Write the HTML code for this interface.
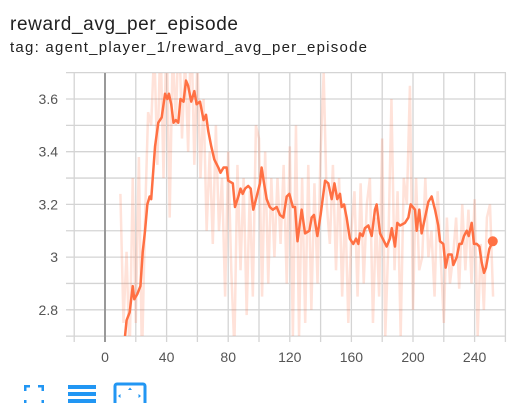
<!DOCTYPE html>
<html><head><meta charset="utf-8"><style>
html,body{margin:0;padding:0;background:#fff;width:514px;height:403px;overflow:hidden}
svg{display:block;font-family:"Liberation Sans",Arial,sans-serif}
</style></head><body>
<svg id="chart" width="514" height="403">
<text x="10" y="30" font-size="19" fill="#212121" textLength="228">reward_avg_per_episode</text>
<text x="10" y="52" font-size="15" fill="#212121" textLength="357">tag: agent_player_1/reward_avg_per_episode</text>
<defs><clipPath id="clip"><rect x="66" y="73" width="440" height="263"/></clipPath></defs>
<g id="grid"></g>
<g id="axes"></g>
<g clip-path="url(#clip)" id="series"></g>
<g transform="translate(24,385)" fill="#2196f3">
<rect x="0" y="0" width="6" height="2.5"/><rect x="0" y="0" width="2.5" height="6"/>
<rect x="14" y="0" width="6" height="2.5"/><rect x="17.5" y="0" width="2.5" height="6"/>
<rect x="0" y="15" width="2.5" height="4"/><rect x="17.5" y="15" width="2.5" height="4"/>
</g>
<g fill="#2196f3">
<rect x="68" y="385" width="28" height="4"/><rect x="68" y="392" width="28" height="4"/><rect x="68" y="399" width="28" height="4"/>
</g>
<g>
<rect x="115" y="384" width="30" height="24" rx="2" fill="none" stroke="#2196f3" stroke-width="3"/>
<path d="M128 390 l2 -2.5 l2 2.5z M118 396 l2.5 -2 v4z M141 396 l-2.5 -2 v4z" fill="#2196f3"/>
</g>
</svg>
<script>
const yTicks=[2.8,3,3.2,3.4,3.6];
const yTickLabels=["2.8","3","3.2","3.4","3.6"];
const xTicks=[0,40,80,120,160,200,240];
const xTickLabels=["0","40","80","120","160","200","240"];
const smoothSteps=[13,14,16,18,19,21,23,24.5,26,27.5,29,30,32.5,34.6,36.8,39,40.5,41.5,43,44.5,46,47.6,49,51,52.6,54,56,58,59.5,61.7,64,65.6,67,69,71,73.6,75,77,79,80,83,84.4,86.6,88,89.4,91,93,94.6,96.3,98.5,100.6,101.7,103,105,107,109,111.5,113.6,115.8,118,119.7,122,123.4,125,127.7,129.9,132.7,134.2,135.7,137.9,140,142.9,145,147.2,149,150.8,152.6,153.7,155.2,156.9,159,161.2,163,164.5,165.6,167.3,168.8,171,173.2,175.3,176.4,178.6,181.2,182.9,185,186.2,188.3,189.8,191.6,194.8,197,198.5,201.3,202.4,204.1,205.6,207.8,210,212.1,214.3,216.4,217.5,219.7,221.2,222.9,225.1,226.2,228.4,230.1,231.6,233.1,234.9,236.2,238.1,239.6,241.4,243.1,244.6,246.1,247.4,249.5,251.8];
const smoothValues=[2.70,2.76,2.79,2.89,2.84,2.86,2.89,3.02,3.10,3.20,3.23,3.22,3.42,3.51,3.53,3.62,3.60,3.62,3.58,3.51,3.52,3.51,3.60,3.59,3.67,3.65,3.59,3.63,3.58,3.59,3.52,3.54,3.48,3.42,3.37,3.34,3.32,3.34,3.34,3.29,3.28,3.19,3.23,3.26,3.24,3.26,3.27,3.26,3.18,3.23,3.28,3.34,3.29,3.22,3.19,3.18,3.19,3.16,3.15,3.23,3.24,3.19,3.19,3.06,3.18,3.09,3.10,3.15,3.16,3.08,3.16,3.29,3.28,3.22,3.28,3.22,3.24,3.19,3.20,3.15,3.07,3.05,3.07,3.05,3.09,3.08,3.11,3.12,3.08,3.18,3.20,3.09,3.06,3.04,3.07,3.11,3.04,3.13,3.12,3.13,3.15,3.20,3.18,3.10,3.18,3.09,3.15,3.21,3.23,3.18,3.12,3.06,3.05,2.96,3.01,3.01,2.97,3.00,3.05,3.05,3.08,3.10,3.08,3.13,3.05,3.05,3.04,2.98,2.94,2.96,3.03,3.06];
const rawSteps=[10,12,14,16,18,20,22,24,26,28,30,32,34,36,38,40,42,44,46,48,50,52,54,56,58,60,62,64,66,68,70,72,74,76,78,80,82,84,86,88,90,92,94,96,98,100,102,104,106,108,110,112,114,116,118,120,122,124,126,128,130,132,134,136,138,140,142,144,146,148,150,152,154,156,158,160,162,164,166,168,170,172,174,176,178,180,182,184,186,188,190,192,194,196,198,200,202,204,206,208,210,212,214,216,218,220,222,224,226,228,230,232,234,236,238,240,242,244,246,248,250,252];
const rawValues=[3.24,2.75,3.02,2.62,3.3,2.75,3.38,2.6,3.15,3.55,3.5,3.8,3.35,3.85,3.3,3.9,3.15,3.8,3.5,3.9,3.45,3.75,3.4,3.9,3.35,3.75,3.3,3.6,3.1,3.4,3.05,3.5,3.1,3.3,2.85,3.4,2.95,2.65,3.35,2.95,3.3,2.78,3.25,2.85,3.5,3.45,2.85,3.4,2.9,3.3,3.0,3.3,3.05,3.35,2.9,3.42,2.7,3.5,2.7,3.3,2.75,3.35,2.8,3.28,2.9,3.4,3.7,3.2,3.05,3.35,2.95,3.3,2.85,3.2,2.75,3.1,3.25,2.85,3.28,2.9,3.2,3.3,2.75,3.15,2.85,3.45,2.7,3.05,3.6,2.95,3.25,2.7,3.3,3.2,3.65,2.8,3.3,2.95,3.0,3.3,3.0,3.1,2.85,3.25,3.0,2.75,3.15,2.9,3.0,3.15,2.88,3.2,2.95,3.18,2.9,3.22,2.7,3.05,2.8,3.15,3.2,2.85];
const NS="http://www.w3.org/2000/svg";
const xs=s=>105+(s)*1.54;
const ys=v=>99+(3.6-v)*263.5;
const grid=document.getElementById('grid'),axes=document.getElementById('axes'),ser=document.getElementById('series');
function mk(tag,attrs,parent){const e=document.createElementNS(NS,tag);for(const k in attrs)e.setAttribute(k,attrs[k]);parent.appendChild(e);return e;}
for(let v=2.7;v<=3.71;v+=0.1){const y=ys(v);
 const l=mk('line',{x1:66,x2:506,y1:y,y2:y,stroke:'#d4d4d4','stroke-width':1.3},grid);
 
 }
for(let s=-20;s<=260;s+=20){const x=xs(s);
 const l=mk('line',{x1:x,x2:x,y1:73,y2:342,stroke:s===0?'#999':'#d4d4d4','stroke-width':s===0?2:1.3},grid);
 
 }
yTicks.forEach((v,i)=>{const t=mk('text',{x:58,y:ys(v)+5,'text-anchor':'end','font-size':14,fill:'#555'},axes);t.textContent=yTickLabels[i];
 
 });
xTicks.forEach((s,i)=>{const t=mk('text',{x:xs(s),y:362,'text-anchor':'middle','font-size':14,fill:'#555'},axes);t.textContent=xTickLabels[i];
 
 });
const raw=mk('polyline',{points:rawSteps.map((s,i)=>xs(s)+','+ys(rawValues[i])).join(' '),fill:'none',stroke:'#ff7043','stroke-opacity':0.2,'stroke-width':2.5},ser);


const sm=mk('polyline',{points:smoothSteps.map((s,i)=>xs(s)+','+ys(smoothValues[i])).join(' '),fill:'none',stroke:'#ff7043','stroke-width':2.5,'stroke-linejoin':'round'},ser);


const n=smoothSteps.length-1;
const dot=mk('circle',{cx:xs(smoothSteps[n]),cy:ys(smoothValues[n]),r:5,fill:'#ff7043'},document.getElementById('chart'));


</script>
</body></html>
